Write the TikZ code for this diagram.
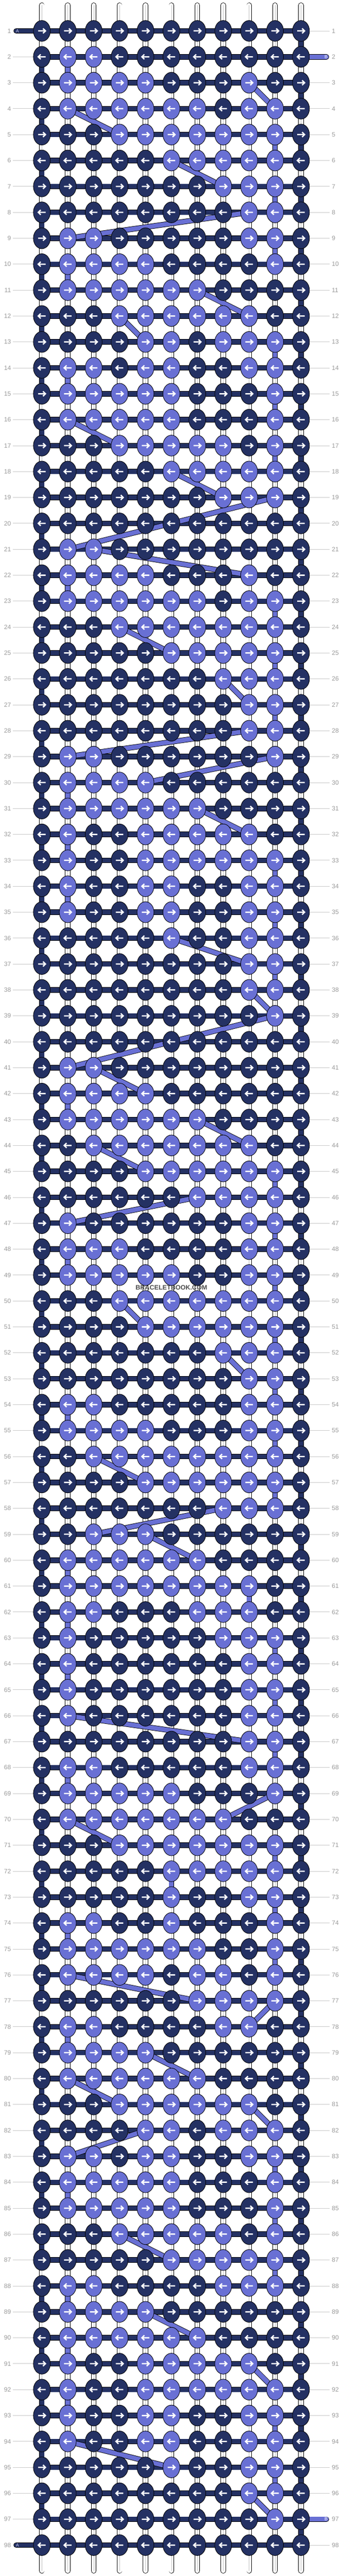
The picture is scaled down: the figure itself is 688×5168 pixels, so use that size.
\documentclass[tikz,border=0pt]{standalone}
\usepackage{fontspec}
\setmainfont{Liberation Sans}
\usetikzlibrary{shapes.geometric}
\pgfdeclarelayer{strings}
\pgfsetlayers{strings,main}
\definecolor{knotdark}{HTML}{243163}
\definecolor{knotlight}{HTML}{6970D4}
\definecolor{numgray}{HTML}{999999}
\definecolor{rulegray}{HTML}{C8C8C8}

\begin{document}
\begin{tikzpicture}[x=1pt, y=-1pt]
  \tikzset{
    knot/.style = {ellipse, draw=black, line width=0.9pt, minimum width=34pt, minimum height=42pt, inner sep=0pt},
    knotarrow/.style = {path picture={
        \draw[white, line width=2.6pt]
          ([xshift=-7.5pt*(#1)]path picture bounding box.center) -- ([xshift=6.5pt*(#1)]path picture bounding box.center)
          ([xshift=2.3pt*(#1), yshift=4.8pt]path picture bounding box.center) -- ([xshift=7.3pt*(#1)]path picture bounding box.center)
          -- ([xshift=2.3pt*(#1), yshift=-4.8pt]path picture bounding box.center);}},
    strand/.style = {draw=black, line width=0.9pt, double=#1, double distance=9pt},
    tube/.style = {strand=white},
    rownum/.style = {text=numgray, font=\fontsize{12.5}{14}\selectfont, inner sep=2pt, outer sep=2pt},
    guide/.style = {draw=rulegray, line width=0.9pt},
    tag/.style = {font=\fontsize{9.3}{10}\selectfont, inner sep=0pt}
  }
  \useasboundingbox (0,0) rectangle (688,5168);

  % knots, one row per line (1 = light thread on top)
  \foreach \r/\pat in {
     1/{0,0,0,0,0,0,0,0,0,0,0},  2/{0,1,1,0,0,0,0,0,0,0,0},  3/{0,1,1,1,1,0,0,0,1,0,0},
     4/{0,1,1,1,1,1,1,0,1,1,0},  5/{0,0,0,1,1,1,1,1,1,1,0},  6/{0,0,0,0,0,1,1,1,1,1,0},
     7/{0,0,0,0,0,0,0,1,1,1,0},  8/{0,0,0,0,0,0,0,0,1,1,0},  9/{0,1,1,0,0,0,0,0,1,1,0},
    10/{0,1,1,1,1,0,0,0,0,1,0}, 11/{0,1,1,1,1,1,1,0,0,0,0}, 12/{0,0,0,1,1,1,1,1,1,0,0},
    13/{0,0,0,0,1,1,0,1,1,1,0}, 14/{0,1,1,0,1,1,0,0,1,1,0}, 15/{0,1,1,1,1,1,0,0,0,1,0},
    16/{0,1,1,1,1,1,0,0,0,1,0}, 17/{0,0,0,1,1,1,1,1,0,1,0}, 18/{0,0,0,0,0,1,1,1,1,1,0},
    19/{0,0,0,0,0,0,0,1,1,1,0}, 20/{0,0,0,0,0,0,0,0,0,0,0}, 21/{0,1,1,0,0,0,0,0,0,0,0},
    22/{0,1,1,1,1,0,0,0,1,0,0}, 23/{0,1,1,1,1,1,1,0,1,1,0}, 24/{0,0,0,1,1,1,1,1,1,1,0},
    25/{0,0,0,0,0,1,1,1,1,1,0}, 26/{0,0,0,0,0,0,0,1,1,1,0}, 27/{0,0,0,0,0,0,0,0,1,1,0},
    28/{0,0,0,0,0,0,0,0,1,1,0}, 29/{0,1,1,0,0,0,0,0,0,1,0}, 30/{0,1,1,1,1,0,0,0,0,0,0},
    31/{0,1,1,1,1,1,1,0,0,0,0}, 32/{0,1,0,0,1,1,1,1,1,0,0}, 33/{0,1,0,0,1,1,1,1,1,1,0},
    34/{0,1,0,0,1,1,0,0,1,1,0}, 35/{0,1,0,0,1,1,0,0,1,1,0}, 36/{0,0,0,0,0,1,0,0,1,1,0},
    37/{0,0,0,0,0,0,0,0,1,1,0}, 38/{0,0,0,0,0,0,0,0,1,1,0}, 39/{0,0,0,0,0,0,0,0,0,1,0},
    40/{0,0,0,0,0,0,0,0,0,0,0}, 41/{0,1,1,0,0,0,0,0,0,0,0}, 42/{0,1,1,1,1,0,0,0,0,0,0},
    43/{0,1,1,1,1,1,1,0,0,0,0}, 44/{0,0,1,1,1,1,1,1,1,0,0}, 45/{0,0,0,0,1,1,1,1,1,1,0},
    46/{0,0,0,0,0,0,1,1,1,1,0}, 47/{0,1,0,0,0,0,0,0,1,1,0}, 48/{0,1,1,1,0,0,0,0,1,1,0},
    49/{0,1,1,1,1,1,0,0,1,1,0}, 50/{0,0,0,1,1,1,1,1,1,1,0}, 51/{0,0,0,0,1,1,1,1,1,1,0},
    52/{0,0,0,0,0,0,0,1,1,1,0}, 53/{0,0,0,0,0,0,0,0,1,1,0}, 54/{0,1,1,0,0,0,0,0,1,1,0},
    55/{0,1,1,1,1,0,0,0,1,1,0}, 56/{0,0,1,1,1,1,1,1,1,1,0}, 57/{0,0,0,0,1,1,1,1,1,1,0},
    58/{0,0,0,0,0,0,0,1,1,1,0}, 59/{0,0,1,1,1,0,0,0,0,0,0}, 60/{0,1,1,1,1,1,1,0,0,0,0},
    61/{0,1,1,1,1,1,1,1,1,0,0}, 62/{0,1,1,0,0,0,1,1,1,0,0}, 63/{0,1,0,0,0,0,0,1,1,1,0},
    64/{0,1,0,0,0,0,0,0,1,1,0}, 65/{0,1,0,0,0,0,0,0,1,1,0}, 66/{0,1,0,0,0,0,0,0,1,1,0},
    67/{0,0,0,0,0,0,0,0,1,1,0}, 68/{0,1,1,0,0,0,0,0,1,1,0}, 69/{0,1,1,1,1,1,0,0,0,1,0},
    70/{0,1,1,1,1,1,1,1,0,0,0}, 71/{0,0,0,1,1,1,1,1,1,1,0}, 72/{0,0,0,0,0,1,1,1,1,1,0},
    73/{0,0,0,0,0,1,0,0,1,1,0}, 74/{0,1,1,0,0,1,0,0,0,1,0}, 75/{0,1,1,1,1,1,1,0,0,1,0},
    76/{0,1,1,1,1,0,1,1,0,1,0}, 77/{0,0,0,0,0,0,1,1,1,1,0}, 78/{0,1,1,0,0,0,0,1,1,0,0},
    79/{0,1,1,1,1,0,0,0,0,0,0}, 80/{0,1,1,1,1,1,1,0,0,0,0}, 81/{0,0,0,1,1,1,1,1,1,0,0},
    82/{0,0,0,0,1,1,0,1,1,1,0}, 83/{0,1,1,0,1,1,0,0,1,1,0}, 84/{0,1,1,1,1,1,0,0,0,1,0},
    85/{0,1,1,1,1,1,0,0,0,1,0}, 86/{0,0,0,1,1,1,1,1,0,1,0}, 87/{0,0,0,0,0,1,1,1,1,1,0},
    88/{0,1,1,0,0,0,0,1,1,1,0}, 89/{0,1,1,1,1,0,0,0,0,0,0}, 90/{0,1,1,1,1,1,1,0,0,0,0},
    91/{0,1,0,0,1,1,1,1,1,0,0}, 92/{0,1,0,0,1,1,1,1,1,1,0}, 93/{0,1,0,0,1,1,0,0,1,1,0},
    94/{0,1,0,0,1,1,0,0,1,1,0}, 95/{0,0,0,0,0,1,0,0,1,1,0}, 96/{0,0,0,0,0,0,0,0,1,1,0},
    97/{0,0,0,0,0,0,0,0,0,1,0}, 98/{0,0,0,0,0,0,0,0,0,0,0}}{
    \ifodd\r \def\kdir{1}\else\def\kdir{-1}\fi
    \foreach \v [count=\c] in \pat {
      \ifnum\v=1 \def\kcol{knotlight}\else\def\kcol{knotdark}\fi
      \node[knot, fill=\kcol, knotarrow=\kdir] (k-\r-\c) at ({84+52*(\c-1)}, {62+52*(\r-1)}) {};
    }
  }

  \begin{pgfonlayer}{strings}
    % row numbers and guide lines
    \foreach \r in {1,...,98}{
      \node[rownum, anchor=east] (nl-\r) at (26, {62+52*(\r-1)}) {\r};
      \node[rownum, anchor=west] (nr-\r) at (662, {62+52*(\r-1)}) {\r};
    }
    \foreach \r in {2,...,97} \draw[guide] (nl-\r.east) -- (k-\r-1.west);
    \foreach \r in {1,3,4,...,96,98} \draw[guide] (k-\r-11.east) -- (nr-\r.west);

    % vertical threads
    \foreach \c in {1,...,11}{
      \coordinate (top-\c) at ({84+52*(\c-1)}, 10.5);
      \coordinate (end-\c) at ({84+52*(\c-1)}, 5157.5);
      \draw[tube, line cap=round] (top-\c) -- (end-\c);
      \draw[black!25, line width=0.6pt] (top-\c) -- (end-\c);
    }

    % thread A along the rows, turning at the edges
    \foreach \r in {1,...,98} \draw[strand=knotdark] (k-\r-1.center) -- (k-\r-11.center);
    \foreach \r in {1,3,...,97}{
      \pgfmathtruncatemacro\s{\r+1}
      \draw[strand=knotdark] (k-\r-11.center) -- (k-\s-11.center);
    }
    \foreach \r in {2,4,...,96}{
      \pgfmathtruncatemacro\s{\r+1}
      \draw[strand=knotdark] (k-\r-1.center) -- (k-\s-1.center);
    }

    % thread B, from one light knot to the next
    \foreach \ra/\ca/\rb/\cb in {2/2/3/2, 3/9/4/10, 4/2/5/4, 5/10/6/10, 6/6/7/8, 7/10/8/10,
        8/9/9/2, 9/10/10/10, 10/2/11/2, 11/7/12/9, 12/4/13/5, 13/10/14/10, 14/2/15/2,
        15/10/16/10, 16/2/17/4, 17/10/18/10, 18/6/19/8, 19/10/21/2, 21/3/22/9, 22/2/23/2,
        23/10/24/10, 24/4/25/6, 25/10/26/10, 26/8/27/9, 27/10/28/10, 28/9/29/2, 29/10/30/5,
        30/2/31/2, 31/7/32/9, 32/2/33/2, 33/10/34/10, 34/2/35/2, 35/10/36/10, 36/6/37/9,
        37/10/38/10, 38/9/39/10, 39/10/41/2, 41/3/42/5, 42/2/43/2, 43/7/44/9, 44/3/45/5,
        45/10/46/10, 46/7/47/2, 47/10/48/10, 48/2/49/2, 49/10/50/10, 50/4/51/5, 51/10/52/10,
        52/8/53/9, 53/10/54/10, 54/2/55/2, 55/10/56/10, 56/3/57/5, 57/10/58/10, 58/8/59/3,
        59/5/60/7, 60/2/61/2, 61/9/62/9, 62/2/63/2, 63/10/64/10, 64/2/65/2, 65/10/66/10,
        66/2/67/9, 67/10/68/10, 68/2/69/2, 69/10/70/8, 70/2/71/4, 71/10/72/10, 72/6/73/6,
        73/10/74/10, 74/2/75/2, 75/10/76/10, 76/2/77/7, 77/10/78/9, 78/2/79/2, 79/5/80/7,
        80/2/81/4, 81/9/82/10, 82/5/83/2, 83/10/84/10, 84/2/85/2, 85/10/86/10, 86/4/87/6,
        87/10/88/10, 88/2/89/2, 89/5/90/7, 90/2/91/2, 91/9/92/10, 92/2/93/2, 93/10/94/10,
        94/2/95/6, 95/10/96/10, 96/9/97/10}
      \draw[strand=knotlight] (k-\ra-\ca.center) -- (k-\rb-\cb.center);

    % loose ends
    \coordinate (a-in) at (32.5, 62);
    \coordinate (a-out) at (32.5, 5106);
    \coordinate (b-in) at (655, 114);
    \coordinate (b-out) at (655, 5054);
    \draw[strand=knotdark, line cap=round] (a-in) -- (k-1-1.center);
    \draw[strand=knotdark, line cap=round] (a-out) -- (k-98-1.center);
    \draw[strand=knotlight, line cap=round] (b-in) -- (k-2-11.center);
    \draw[strand=knotlight, line cap=round] (b-out) -- (k-97-11.center);
    \node[tag, text=knotlight!40!white] (a-tag1) at (35, 62) {A};
    \node[tag, text=knotlight!40!white] (a-tag2) at (35, 5106) {A};
    \node[tag, text=white] (b-tag1) at (654.5, 114) {B};
    \node[tag, text=white] (b-tag2) at (654.5, 5054) {B};

    \node[font=\bfseries\fontsize{13}{13}\selectfont, text=black!70] (mark) at (344, 2583) {BRACELETBOOK.COM};
  \end{pgfonlayer}
\end{tikzpicture}
\end{document}
